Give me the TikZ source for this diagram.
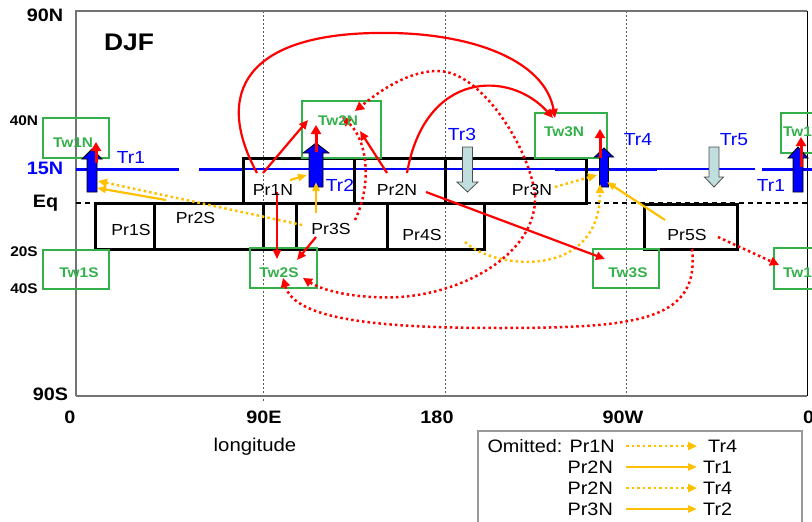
\documentclass[tikz,border=0pt]{standalone}
\usepackage{fontspec}
\setmainfont[FakeStretch=1.1]{Liberation Sans}
\usetikzlibrary{arrows.meta}
\definecolor{trblue}{RGB}{0,0,255}
\definecolor{twgreen}{RGB}{51,176,74}
\definecolor{gold}{RGB}{255,192,0}
\definecolor{lbg}{RGB}{192,222,222}
\definecolor{axgray}{RGB}{115,115,115}
\begin{document}
\begin{tikzpicture}[x=1pt,y=-1pt,
  prbox/.style={draw=black,line width=3pt,inner sep=0pt,outer sep=0pt},
  twbox/.style={draw=twgreen,line width=2.3pt,inner sep=0pt,outer sep=0pt},
  prlab/.style={font=\fontsize{16}{19}\selectfont,anchor=base,inner sep=0pt},
  twlab/.style={font=\fontsize{14}{17}\selectfont\bfseries,text=twgreen,anchor=base,inner sep=0pt},
  trlab/.style={font=\fontsize{17.5}{20}\selectfont,text=trblue,anchor=base,inner sep=0pt},
  axlab/.style={font=\fontsize{18}{21}\selectfont\bfseries,anchor=base,inner sep=0pt},
  smlab/.style={font=\fontsize{14}{17}\selectfont\bfseries,anchor=base,inner sep=0pt},
  leglab/.style={font=\fontsize{18}{21}\selectfont,inner sep=0pt},
  redarr/.style={draw=red,line width=2.2pt,-{Triangle[length=9pt,width=8pt]}},
  redup/.style={draw=red,line width=3pt,-{Triangle[length=9pt,width=10pt]}},
  reddot/.style={draw=red,line width=2.5pt,dash pattern=on 2.5pt off 3pt,-{Triangle[length=9pt,width=9pt]}},
  yelarr/.style={draw=gold,line width=2.2pt,-{Triangle[length=9pt,width=7pt]}},
  yeldot/.style={draw=gold,line width=2.5pt,dash pattern=on 2.5pt off 3pt,-{Triangle[length=9pt,width=8pt]}},
  upshape/.style={draw=black,line width=0.8pt,fill=trblue},
  downshape/.style={draw=black!70,line width=0.8pt,fill=lbg},
  gridline/.style={draw=black!65,line width=1pt,dash pattern=on 2pt off 2pt},
  eqline/.style={draw=black,line width=1.2pt,dash pattern=on 5pt off 4pt}]
\useasboundingbox (0,0) rectangle (812,522);
\clip (0,0) rectangle (812,522);

% grid lines
\draw[gridline] (263,11) -- (263,402);
\draw[gridline] (445,11) -- (445,398);
\draw[gridline] (626,11) -- (626,398);

% frame
\draw[draw=axgray,line width=1.8pt] (76,396) -- (76,11) -- (807,11);
\draw[draw=axgray,line width=1.8pt] (76,396) -- (807,396);
\draw[draw=black,line width=1pt] (807,11) -- (807,396);

% equator dashed
\draw[eqline] (76,203) -- (95,203);
\draw[eqline] (586,203) -- (807,203);

% 15N blue line
\draw[draw=trblue,line width=3pt] (76,169) -- (179,169);
\draw[draw=trblue,line width=3pt] (199,169) -- (243,169);
\draw[draw=trblue,line width=1.4pt] (243,169) -- (555,169);
\draw[draw=trblue,line width=3pt] (555,169) -- (657,169);
\draw[draw=trblue,line width=1.4pt] (657,169) -- (755,169);
\draw[draw=trblue,line width=3pt] (762,169) -- (812,169);

% Pr boxes
\node[prbox,minimum width=111pt,minimum height=45pt] (pr1nbox) at (298.5,180.5) {};
\node[prbox,minimum width=91pt,minimum height=45pt] (pr2nbox) at (399.5,180.5) {};
\node[prbox,minimum width=141pt,minimum height=45pt] (pr3nbox) at (515.5,180.5) {};
\node[prbox,minimum width=59pt,minimum height=46pt] (pr1sbox) at (124.5,226) {};
\node[prbox,minimum width=142pt,minimum height=46pt] (pr2sbox) at (225,226) {};
\node[prbox,minimum width=124pt,minimum height=46pt] (pr3sbox) at (325,226) {};
\node[prbox,minimum width=97pt,minimum height=46pt] (pr4sbox) at (435.5,226) {};
\node[prbox,minimum width=93pt,minimum height=45pt] (pr5sbox) at (690.5,226.5) {};

% Tw boxes
\node[twbox,minimum width=66pt,minimum height=40pt] (tw1nbox) at (76,138) {};
\node[twbox,minimum width=66pt,minimum height=39pt] (tw1sbox) at (76,269.5) {};
\node[twbox,minimum width=79pt,minimum height=57pt] (tw2nbox) at (341.5,129.5) {};
\node[twbox,minimum width=67pt,minimum height=40pt] (tw2sbox) at (283.5,268) {};
\node[twbox,minimum width=72pt,minimum height=45pt] (tw3nbox) at (571,135.5) {};
\node[twbox,minimum width=66pt,minimum height=39pt] (tw3sbox) at (626,268.5) {};
\node[twbox,minimum width=66pt,minimum height=40pt] (tw1nrbox) at (814,133) {};
\node[twbox,minimum width=66pt,minimum height=41pt] (tw1srbox) at (807,268.5) {};

% Tr up arrows (blue)
\draw[upshape] (87,192) -- (87,159) -- (82,159) -- (92,149) -- (102,159) -- (97,159) -- (97,192) -- cycle;
\draw[upshape] (309,187) -- (309,153) -- (303,153) -- (316,143) -- (329,153) -- (323,153) -- (323,187) -- cycle;
\draw[upshape] (599.5,187) -- (599.5,157) -- (594.5,157) -- (604,148) -- (613.5,157) -- (608.5,157) -- (608.5,187) -- cycle;
\draw[upshape] (793,192) -- (793,158) -- (788,158) -- (798,147) -- (808,158) -- (803,158) -- (803,192) -- cycle;
% Tr down arrows
\draw[downshape] (462.5,147) -- (472.5,147) -- (472.5,182) -- (478,182) -- (467.5,192) -- (457,182) -- (462.5,182) -- cycle;
\draw[downshape] (709,147) -- (719,147) -- (719,177) -- (723.5,177) -- (714,187) -- (704.5,177) -- (709,177) -- cycle;

% connector end points
\coordinate (tr1a) at (97,188);   \coordinate (tr1b) at (98,181);
\coordinate (tr1top) at (96,163); \coordinate (tw1na) at (96,142);
\coordinate (tr2a) at (307,175);  \coordinate (tr2b) at (316,182);
\coordinate (tr2top) at (316,152); \coordinate (tw2ntip) at (316,125);
\coordinate (tr4a) at (597,175);  \coordinate (tr4b) at (607,182); \coordinate (tr4c) at (600,184);
\coordinate (tr4top) at (600,158); \coordinate (tw3ntip) at (600,129);
\coordinate (tr1rtop) at (801,167); \coordinate (tw1nrtip) at (801,137);
\coordinate (p1na) at (263,173); \coordinate (p1nb) at (277,192);
\coordinate (p1nc) at (257,173); \coordinate (p1nd) at (290,180);
\coordinate (p2na) at (387,173); \coordinate (p2nb) at (407,173); \coordinate (p2nc) at (426,192);
\coordinate (p3na) at (535,195); \coordinate (p3nb) at (555,187);
\coordinate (p2sa) at (166,200);
\coordinate (p3sa) at (302,225); \coordinate (p3sb) at (316,213);
\coordinate (p3sc) at (316,237); \coordinate (p3sd) at (355,220);
\coordinate (p4sa) at (465,242);
\coordinate (p5sa) at (665,220); \coordinate (p5sb) at (692,249); \coordinate (p5sc) at (718,237);
\coordinate (tw2na) at (308,120); \coordinate (tw2nb) at (360,131);
\coordinate (tw2nc) at (342,117); \coordinate (tw2nd) at (355,111);
\coordinate (tw2sa) at (277,259); \coordinate (tw2sb) at (297,260);
\coordinate (tw2sc) at (303,278); \coordinate (tw2sd) at (283,278);
\coordinate (tw3na) at (555,118); \coordinate (tw3nb) at (553,118);
\coordinate (tw3sa) at (605,259);
\coordinate (tw1sra) at (779,265);

% red arrows from Tr to Tw
\draw[redup] (tr1top) -- (tw1na);
\draw[redup] (tr2top) -- (tw2ntip);
\draw[redup] (tr4top) -- (tw3ntip);
\draw[redup] (tr1rtop) -- (tw1nrtip);

% yellow connectors
\draw[yelarr] (p2sa) -- (tr1a);
\draw[yeldot] (p3sa) -- (tr1b);
\draw[yelarr] (p1nd) -- (tr2a);
\draw[yelarr] (p3sb) -- (tr2b);
\draw[yeldot] (p3nb) -- (tr4a);
\draw[yelarr] (p5sa) -- (tr4b);
\draw[yeldot] (p4sa) .. controls (495,270) and (600,280) .. (tr4c);

% red solid connectors
\draw[redarr] (p1na) -- (tw2na);
\draw[redarr] (p1nb) -- (tw2sa);
\draw[redarr] (p3sc) -- (tw2sb);
\draw[redarr] (p2na) -- (tw2nb);
\draw[redarr] (p1nc) .. controls (212,90) and (250,35) .. (375,33) .. controls (470,31) and (545,60) .. (tw3na);
\draw[redarr] (p2nb) .. controls (425,70) and (510,70) .. (tw3nb);
\draw[redarr] (p2nc) -- (tw3sa);

% red dotted connectors
\draw[reddot] (p3sd) .. controls (372,185) and (368,140) .. (tw2nc);
\draw[reddot] (p3na) .. controls (530,150) and (482,71) .. (438,71) .. controls (405,71) and (375,95) .. (tw2nd);
\draw[reddot] (p3na) .. controls (538,250) and (470,292) .. (400,297) .. controls (360,299) and (325,292) .. (tw2sc);
\draw[reddot] (p5sb) .. controls (700,320) and (640,328) .. (500,328) .. controls (380,328) and (295,320) .. (tw2sd);
\draw[reddot] (p5sc) -- (tw1sra);

% Pr labels
\node[prlab] (pr1n) at (273,195) {Pr1N};
\node[prlab] (pr2n) at (397,195) {Pr2N};
\node[prlab] (pr3n) at (532,195) {Pr3N};
\node[prlab] (pr1s) at (131,235) {Pr1S};
\node[prlab] (pr2s) at (195.5,223) {Pr2S};
\node[prlab] (pr3s) at (331,234) {Pr3S};
\node[prlab] (pr4s) at (422,240) {Pr4S};
\node[prlab] (pr5s) at (687,240) {Pr5S};

% Tw labels
\node[twlab] (tw1n) at (73,147) {Tw1N};
\node[twlab] (tw1s) at (79,277) {Tw1S};
\node[twlab] (tw2n) at (338,125) {Tw2N};
\node[twlab] (tw2s) at (279,277) {Tw2S};
\node[twlab] (tw3n) at (564,136) {Tw3N};
\node[twlab] (tw3s) at (628,277) {Tw3S};
\node[twlab,anchor=base west] (tw1nr) at (783,136) {Tw1N};
\node[twlab,anchor=base west] (tw1sr) at (783,277) {Tw1S};

% Tr labels
\node[trlab] (tr1l) at (131,163) {Tr1};
\node[trlab] (tr2l) at (340,191) {Tr2};
\node[trlab] (tr3l) at (462,140) {Tr3};
\node[trlab] (tr4l) at (638,145) {Tr4};
\node[trlab] (tr5l) at (734,145) {Tr5};
\node[trlab] (tr1rl) at (771,191) {Tr1};

% title and axes labels
\node[font=\fontsize{24}{28}\selectfont\bfseries,anchor=base,inner sep=0pt] (djf) at (129,50) {DJF};
\node[axlab] (l90n) at (45,21) {90N};
\node[smlab] (l40n) at (24,125) {40N};
\node[axlab,text=trblue] (l15n) at (45,174) {15N};
\node[axlab] (leq) at (45.5,207) {Eq};
\node[smlab] (l20s) at (24,256) {20S};
\node[smlab] (l40s) at (24,293) {40S};
\node[axlab] (l90s) at (50.5,400) {90S};
\node[axlab] (x0) at (70,423) {0};
\node[axlab] (x90e) at (264,423) {90E};
\node[axlab] (x180) at (437,423) {180};
\node[axlab] (x90w) at (623,423) {90W};
\node[axlab,anchor=base west] (x0r) at (803,423) {0};
\node[font=\fontsize{18.5}{22}\selectfont,anchor=base,inner sep=0pt] (lon) at (255,451) {longitude};

% legend
\node[draw=black!40,line width=1.5pt,minimum width=324pt,minimum height=110pt,inner sep=0pt,anchor=north west] (legend) at (477,430) {};
\node[leglab,anchor=base east] (lg1) at (615,452) {Omitted: Pr1N};
\node[leglab,anchor=base east] (lg2) at (613,473) {Pr2N};
\node[leglab,anchor=base east] (lg3) at (613,494) {Pr2N};
\node[leglab,anchor=base east] (lg4) at (613,515) {Pr3N};
\node[leglab,anchor=base west] (lt1) at (708,452) {Tr4};
\node[leglab,anchor=base west] (lt2) at (703,473) {Tr1};
\node[leglab,anchor=base west] (lt3) at (703,494) {Tr4};
\node[leglab,anchor=base west] (lt4) at (703,515) {Tr2};
\coordinate (la1) at (626,446); \coordinate (lb1) at (697,446);
\coordinate (la2) at (626,467); \coordinate (lb2) at (697,467);
\coordinate (la3) at (626,488); \coordinate (lb3) at (697,488);
\coordinate (la4) at (626,509); \coordinate (lb4) at (697,509);
\draw[yeldot] (la1) -- (lb1);
\draw[yelarr] (la2) -- (lb2);
\draw[yeldot] (la3) -- (lb3);
\draw[yelarr] (la4) -- (lb4);
\end{tikzpicture}
\end{document}
